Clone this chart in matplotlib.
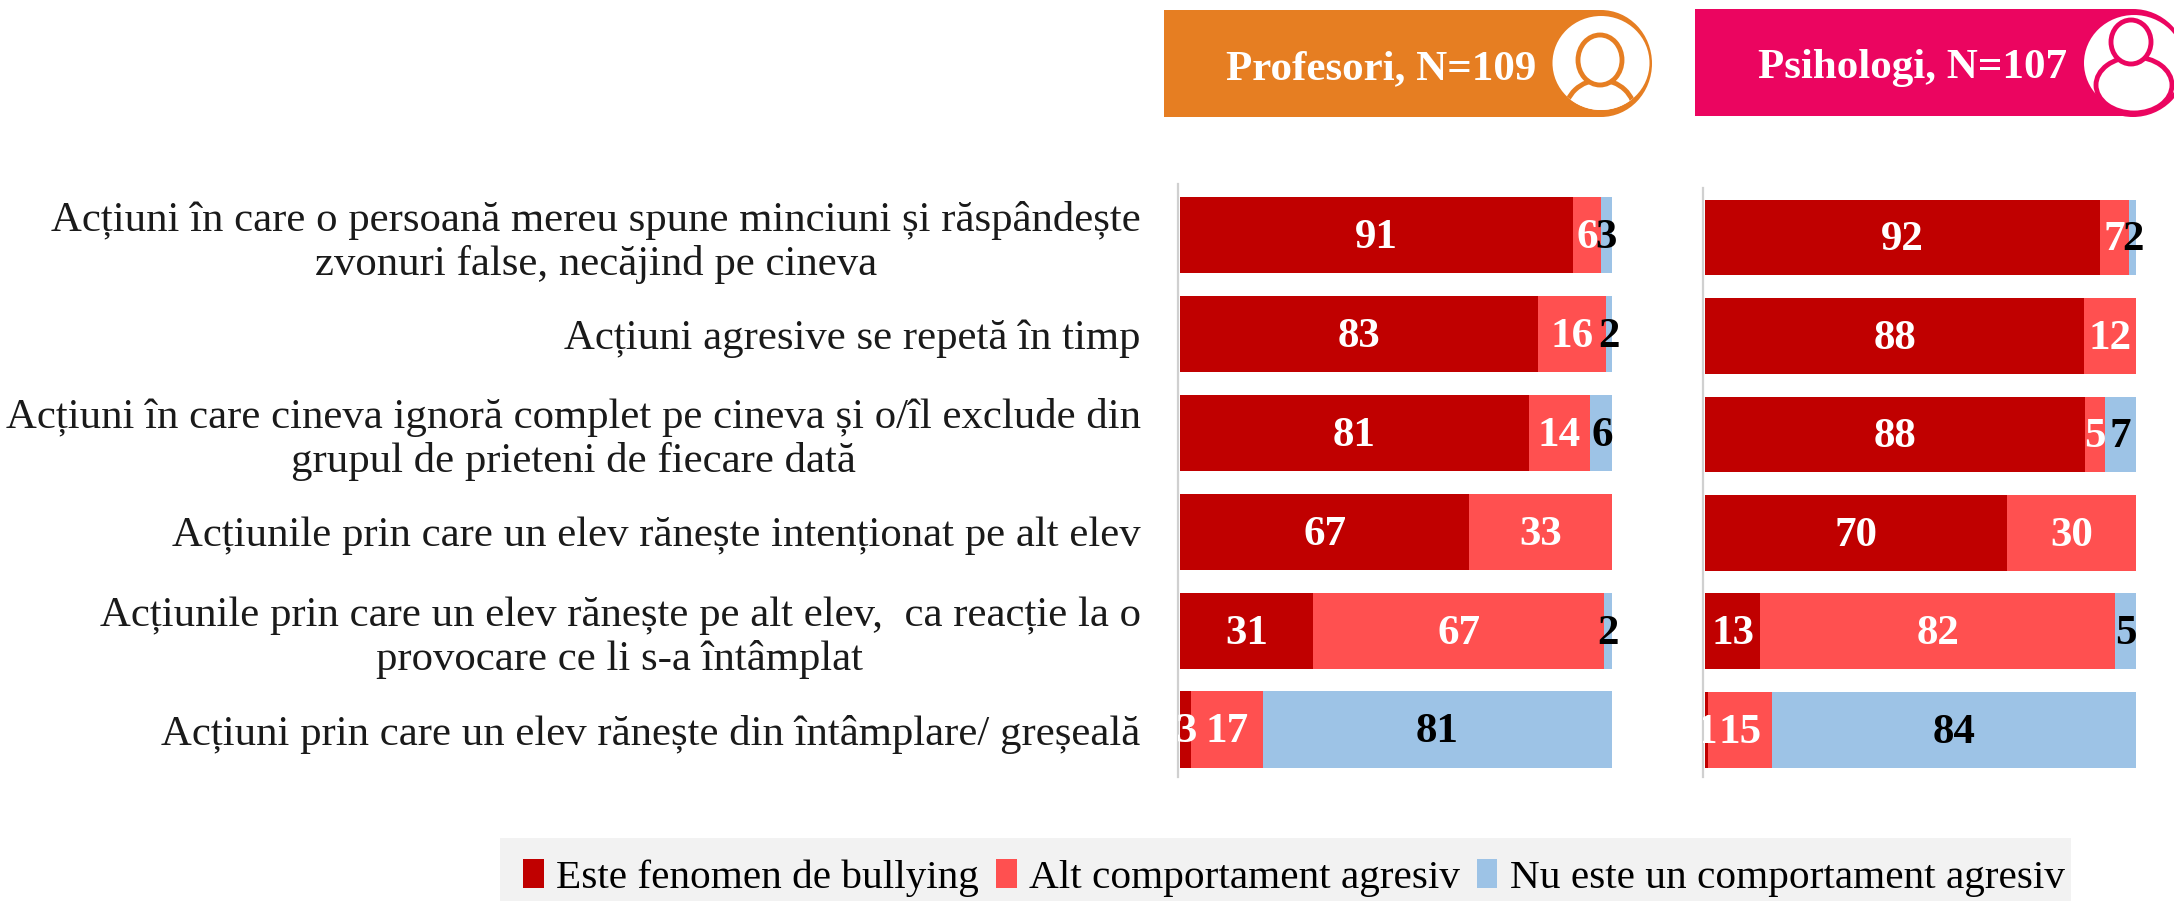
import matplotlib
matplotlib.use('Agg')
import matplotlib.pyplot as plt
import numpy as np
from matplotlib.patches import Ellipse, Rectangle

plt.rcParams['font.family'] = ['Liberation Serif', 'DejaVu Serif']

categorii = [
    'Acțiuni în care o persoană mereu spune minciuni și răspândește\nzvonuri false, necăjind pe cineva',
    'Acțiuni agresive se repetă în timp',
    'Acțiuni în care cineva ignoră complet pe cineva și o/îl exclude din\ngrupul de prieteni de fiecare dată',
    'Acțiunile prin care un elev rănește intenționat pe alt elev',
    'Acțiunile prin care un elev rănește pe alt elev,  ca reacție la o\nprovocare ce li s-a întâmplat',
    'Acțiuni prin care un elev rănește din întâmplare/ greșeală',
]
serii = ['Este fenomen de bullying', 'Alt comportament agresiv', 'Nu este un comportament agresiv']
culori = ['#C00000', '#FF5050', '#9DC3E6']
culori_text = ['white', 'white', 'black']

# estimate din latimea barelor, etichetele sunt rotunjite
prof_bullying = [91, 82.8, 80.7, 67, 30.8, 2.6]
prof_alt = [6.4, 15.8, 14.2, 33, 67.4, 16.6]
prof_nu = [2.6, 1.6, 5.6, 0, 1.8, 80.8]

psi_bullying = [91.6, 88, 88.1, 70, 12.8, 0.8]
psi_alt = [6.8, 12, 4.6, 30, 82.4, 14.7]
psi_nu = [1.6, 0, 7.4, 0, 4.8, 84.4]

W, H = 2174, 901
fig = plt.figure(figsize=(W / 100, H / 100), dpi=100)


def pozitie(x0, x1, y0, y1):
    return [x0 / W, 1 - y1 / H, (x1 - x0) / W, (y1 - y0) / H]


def bare(ax, valori):
    y = np.arange(len(categorii))
    stanga = np.zeros(len(categorii))
    cont = []
    for i, v in enumerate(valori):
        v = np.array(v, dtype=float)
        b = ax.barh(y, v, left=stanga, height=0.77, color=culori[i], label=serii[i])
        cont.append(b)
        for r in y:
            if v[r] > 0:
                ax.text(stanga[r] + v[r] / 2, r + 0.03, f'{v[r]:.0f}', ha='center', va='center',
                        color=culori_text[i], fontsize=31, fontweight='bold', clip_on=(i == 0))
        stanga += v
    ax.set_xlim(-0.46, 100)
    ax.set_xticks([])
    for s in ['top', 'right', 'bottom']:
        ax.spines[s].set_visible(False)
    ax.spines['left'].set_color('#D0D0D0')
    ax.spines['left'].set_linewidth(1.6)
    return cont


ax1 = fig.add_axes(pozitie(1178, 1612, 184, 777))
h = bare(ax1, [prof_bullying, prof_alt, prof_nu])
ax1.set_ylim(5.48, -0.516)
ax1.set_yticks(range(len(categorii)))
ax1.set_yticklabels(categorii, fontsize=30.8, color='#1a1a1a', linespacing=1.17, multialignment='center')
ax1.tick_params(axis='y', length=0, pad=27)

ax2 = fig.add_axes(pozitie(1703, 2136, 188, 777))
bare(ax2, [psi_bullying, psi_alt, psi_nu])
ax2.set_ylim(5.48, -0.503)
ax2.set_yticks([])

# legenda
leg = fig.legend(handles=[c[0] for c in h], labels=serii, ncol=3, mode='expand',
                 loc='lower left', bbox_to_anchor=(513 / W, -6 / H, 1562 / W, 63 / H),
                 fontsize=29.7, frameon=False, handlelength=0.5, handleheight=0.7, handletextpad=0.3,
                 columnspacing=0.4, borderaxespad=0, borderpad=0.25)

# antetele cu iconite
top = fig.add_axes([0, 0, 1, 1], facecolor='none')
top.set_xlim(0, W)
top.set_ylim(H, 0)
top.axis('off')

top.add_patch(Rectangle((500, 838), 1571, 63, color='#F2F2F2', lw=0))

portocaliu = '#E67E22'
roz = '#EB0560'

top.add_patch(Rectangle((1164, 10), 437, 107, color=portocaliu, lw=0))
top.add_patch(Ellipse((1601, 63.5), 102, 107, color=portocaliu, lw=0))
cerc1 = Ellipse((1601, 63), 97, 94, color='white', lw=0)
top.add_patch(cerc1)
corp1 = Ellipse((1600, 113), 70, 66, fc='white', ec=portocaliu, lw=3.5)
top.add_patch(corp1)
corp1.set_clip_path(cerc1)
top.add_patch(Ellipse((1600, 60), 44, 50, fc='white', ec=portocaliu, lw=3.5))
top.text(1381, 69, 'Profesori, N=109', color='white', fontsize=31, fontweight='bold', ha='center', va='center')

top.add_patch(Rectangle((1695, 9), 438, 107, color=roz, lw=0))
top.add_patch(Ellipse((2133, 63), 108, 108, color=roz, lw=0))
top.add_patch(Ellipse((2134, 63), 100, 96, color='white', lw=0))
top.add_patch(Ellipse((2134, 85), 76, 56, fc='white', ec=roz, lw=3.5))
top.add_patch(Ellipse((2131, 42), 40, 44, fc='white', ec=roz, lw=3.5))
top.text(1913, 68, 'Psihologi, N=107', color='white', fontsize=31, fontweight='bold', ha='center', va='center')

fig.savefig('out.png', dpi=100)
